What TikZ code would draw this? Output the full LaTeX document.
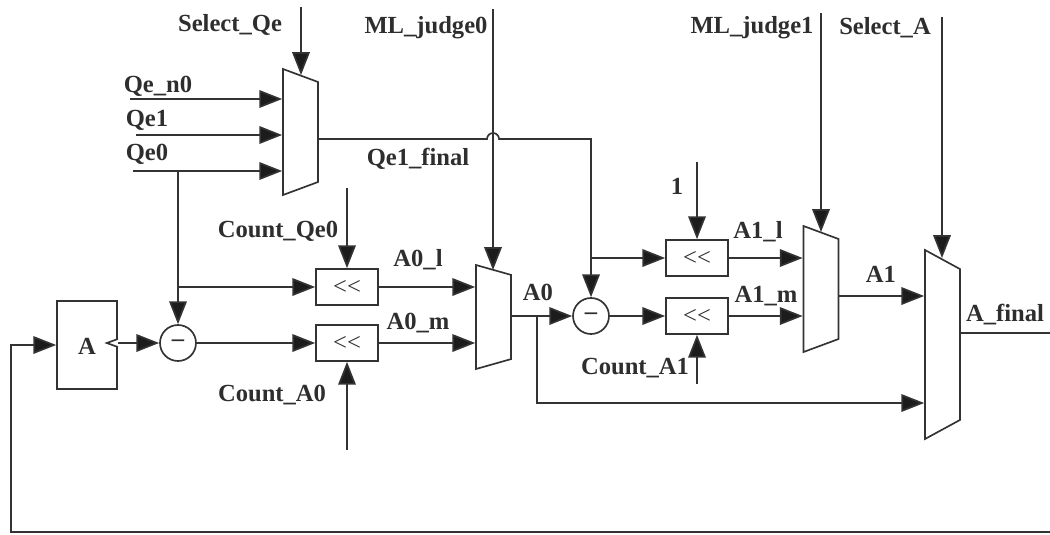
\documentclass[tikz,border=0pt]{standalone}
\usepackage{fontspec}
\usepackage{xcolor}
\usepackage{tikz}
\usetikzlibrary{positioning,arrows.meta,shapes.geometric}
\setmainfont{Liberation Serif}
\definecolor{cWire}{HTML}{333333}
\definecolor{cTip} {HTML}{1c1c1c}
\definecolor{cText}{HTML}{2e2e2e}
\tikzset{
  wire/.style={draw=cWire,line width=0.95pt},
  sig/.style={wire,-{Triangle[length=13pt,width=10pt,fill=cTip]}},
  lbl/.style={text=cText,inner sep=0pt,yshift=-1pt,font=\fontsize{14}{16}\selectfont\bfseries},
  shiftbox/.style={wire,rectangle,minimum width=1.24cm,minimum height=0.72cm,inner sep=0pt,
    text=cText,font=\fontsize{14}{16}\selectfont},
  subnode/.style={wire,circle,minimum size=0.72cm,inner sep=0pt,text=cText,
    font=\fontsize{14}{16}\selectfont\bfseries},
  muxbox/.style={wire,trapezium,shape border rotate=270,trapezium stretches=true,
    inner sep=1pt,minimum height=0.7cm,minimum width=#1},
}

\begin{document}
\begin{tikzpicture}[x=0.02cm,y=-0.02cm]
        \useasboundingbox (0,0) rectangle (1050,534);
        \node[muxbox=2.52cm,trapezium angle=82.6] (muxQe) at (300.5,132) {};
        \node[muxbox=2.08cm,trapezium angle=83.3] (muxA0) at (493.5,317) {};
        \node[muxbox=2.52cm,trapezium angle=82.6] (muxA1) at (821,289) {};
        \node[muxbox=3.78cm,trapezium angle=82.8] (muxFinal) at (942.5,344.5) {};
        \node[shiftbox] (shiftA0l) at (347,287) {<{}<};
        \node[shiftbox] (shiftA0m) at (347,343) {<{}<};
        \node[shiftbox] (shiftA1l) at (697,258) {<{}<};
        \node[shiftbox] (shiftA1m) at (697,316) {<{}<};
        \node[subnode] (subA0) at (178,343) {–};
        \node[subnode] (subA1) at (591,316) {–};
        \node[wire,rectangle,minimum width=1.2cm,minimum height=1.76cm,inner sep=0pt] (regA) at (87,345) {};
        \node[lbl] (regAText) at (87,345) {A};
        \node[lbl] (lblSelQe) at (230,23) {Select\_Qe};
        \node[lbl] (lblJudge0) at (426,26) {ML\_judge0};
        \node[lbl] (lblJudge1) at (752,26) {ML\_judge1};
        \node[lbl] (lblSelA) at (885,26) {Select\_A};
        \node[lbl] (lblQen0) at (158,85) {Qe\_n0};
        \node[lbl] (lblQe1) at (147,119) {Qe1};
        \node[lbl] (lblQe0) at (147,153) {Qe0};
        \node[lbl] (lblQeFinal) at (418,157) {Qe1\_final};
        \node[lbl] (lblCountQe) at (278,230) {Count\_Qe0};
        \node[lbl] (lblCountA0) at (272,393) {Count\_A0};
        \node[lbl] (lblCountA1) at (635,366) {Count\_A1};
        \node[lbl] (lblOne) at (677,185) {1};
        \node[lbl] (lblA0l) at (418,258) {A0\_l};
        \node[lbl] (lblA0m) at (418,321) {A0\_m};
        \node[lbl] (lblA0) at (538,291) {A0};
        \node[lbl] (lblA1l) at (758,230) {A1\_l};
        \node[lbl] (lblA1m) at (766,294) {A1\_m};
        \node[lbl] (lblA1) at (881,273) {A1};
        \node[lbl] (lblFinal) at (1005,313) {A\_final};
        \coordinate (inQen0) at (130,99);
        \coordinate (inQe1) at (136,135);
        \coordinate (inQe0) at (133,171);
        \coordinate (inSelQe) at (301,7);
        \coordinate (inJudge0) at (493,9);
        \coordinate (inJudge1) at (821,13);
        \coordinate (inSelA) at (942,17);
        \coordinate (inCountQe) at (347,188);
        \coordinate (inCountA0) at (347,450);
        \coordinate (inCountA1) at (697,384);
        \coordinate (inOne) at (697,162);
        \coordinate (jumpQe) at (487,139);
        \coordinate (turnQe) at (591,139);
        \coordinate (tapQe0) at (178,171);
        \coordinate (tapA0) at (537,316);
        \coordinate (turnA0) at (537,403);
        \coordinate (outA1) at (839,296);
        \coordinate (outFinal) at (1050,333);
        \coordinate (fbStart) at (1050,532);
        \coordinate (fbTurn) at (11,532);
        \draw[sig] (inQen0) -- (inQen0 -| muxQe.west);
        \draw[sig] (inQe1) -- (inQe1 -| muxQe.west);
        \draw[sig] (inQe0) -- (inQe0 -| muxQe.west);
        \draw[sig] (inSelQe) -- (301,75);
        \draw[sig] (inJudge0) -- (493,270);
        \draw[sig] (inJudge1) -- (821,232);
        \draw[sig] (inSelA) -- (942,258);
        \draw[sig] (inCountQe) -- (shiftA0l.north);
        \draw[sig] (inCountA0) -- (shiftA0m.south);
        \draw[sig] (inCountA1) -- (shiftA1m.south);
        \draw[sig] (inOne) -- (shiftA1l.north);
        \draw[sig] (jumpQe -| muxQe.east) -- (jumpQe) arc[start angle=180,end angle=360,radius=6] -- (turnQe) -- (subA1.north);
        \draw[sig] (turnQe |- shiftA1l) -- (shiftA1l.west);
        \draw[sig] (tapQe0) -- (subA0.north);
        \draw[sig] (tapQe0 |- shiftA0l) -- (shiftA0l.west);
        \draw[sig] (regA.east |- subA0) -- (subA0.west);
        \draw[sig] (subA0.east) -- (shiftA0m.west);
        \draw[sig] (shiftA0l.east) -- (shiftA0l -| muxA0.west);
        \draw[sig] (shiftA0m.east) -- (shiftA0m -| muxA0.west);
        \draw[sig] (tapA0 -| muxA0.east) -- (subA1.west);
        \draw[sig] (subA1.east) -- (shiftA1m.west);
        \draw[sig] (shiftA1l.east) -- (shiftA1l -| muxA1.west);
        \draw[sig] (shiftA1m.east) -- (shiftA1m -| muxA1.west);
        \draw[sig] (tapA0) -- (turnA0) -- (turnA0 -| muxFinal.west);
        \draw[sig] (outA1) -- (outA1 -| muxFinal.west);
        \draw[wire] (outFinal -| muxFinal.east) -- (outFinal);
        \draw[sig] (fbStart) -- (fbTurn) |- (regA.west);
        \draw[wire,fill=white] (regA.east |- subA0) ++(0,-4) -- ++(-11,4) -- ++(11,4);
      \end{tikzpicture}
\end{document}
